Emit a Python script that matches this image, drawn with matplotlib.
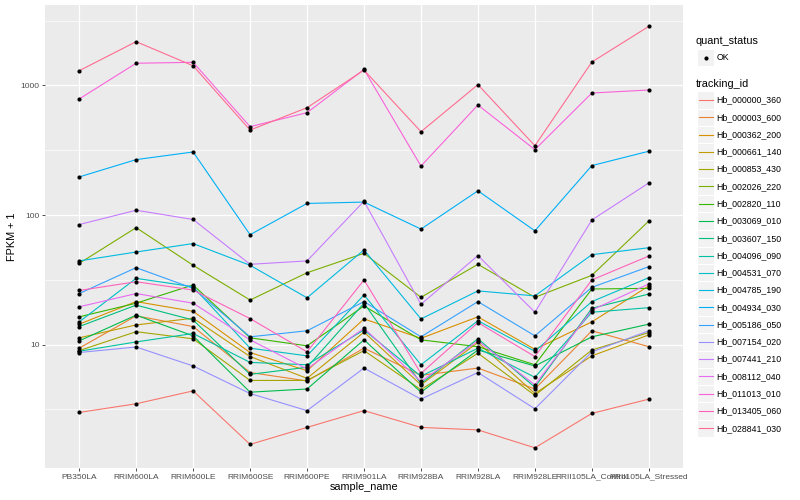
import numpy as np
import matplotlib
matplotlib.use('Agg')
import matplotlib.pyplot as plt
from matplotlib.patches import Rectangle

plt.rcParams['font.family'] = ['Liberation Sans', 'DejaVu Sans']

samples = ['PB350LA', 'RRIM600LA', 'RRIM600LE', 'RRIM600SE', 'RRIM600PE', 'RRIM901LA',
           'RRIM928BA', 'RRIM928LA', 'RRIM928LE', 'RRII105LA_Control', 'RRII105LA_Stressed']

tracking_ids = ['Hb_000000_360', 'Hb_000003_600', 'Hb_000362_200', 'Hb_000661_140',
                'Hb_000853_430', 'Hb_002026_220', 'Hb_002820_110', 'Hb_003069_010',
                'Hb_003607_150', 'Hb_004096_090', 'Hb_004531_070', 'Hb_004785_190',
                'Hb_004934_030', 'Hb_005186_050', 'Hb_007154_020', 'Hb_007441_210',
                'Hb_008112_040', 'Hb_011013_010', 'Hb_013405_060', 'Hb_028841_030']

# ggplot hue palette, 20 levels
colors = ['#F8766D', '#EA8331', '#D89000', '#C09B00', '#A3A500', '#7CAE00', '#39B600',
          '#00BB4E', '#00BF7D', '#00C1A3', '#00BFC4', '#00BAE0', '#00B0F6', '#35A2FF',
          '#9590FF', '#C77CFF', '#E76BF3', '#FA62DB', '#FF62BC', '#FF6C91']

# FPKM + 1 per sample
hb_000000_360 = [3.0, 3.5, 4.4, 1.7, 2.3, 3.1, 2.3, 2.2, 1.6, 2.95, 3.8]
hb_000003_600 = [9.4, 16.7, 13.8, 6.1, 5.25, 9.4, 5.8, 6.6, 4.55, 12.8, 9.65]
hb_000362_200 = [14.4, 21.5, 18.1, 8.7, 6.3, 15.8, 11.2, 16.4, 9.2, 15.0, 28.4]
hb_000661_140 = [11.3, 14.2, 16.0, 8.1, 5.5, 12.5, 4.9, 10.4, 4.2, 8.2, 11.9]
hb_000853_430 = [9.0, 12.6, 11.1, 5.3, 5.3, 9.0, 4.5, 8.6, 4.06, 9.1, 12.4]
hb_002026_220 = [42.4, 80, 41, 22.1, 35.9, 50.7, 23.2, 41.7, 23.2, 34.3, 90]
hb_002820_110 = [16.4, 20.9, 28.9, 11.3, 9.8, 19.9, 10.9, 9.65, 7.0, 26.9, 27.2]
hb_003069_010 = [10.7, 16.9, 11.7, 4.3, 4.55, 10.9, 4.3, 9.1, 6.85, 11.5, 14.4]
hb_003607_150 = [13.8, 20.2, 15.5, 5.9, 6.7, 20.9, 5.0, 11.1, 4.7, 19.1, 24.6]
hb_004096_090 = [8.9, 10.5, 12.2, 7.3, 7.0, 13.0, 5.7, 9.4, 5.6, 17.8, 19.3]
hb_004531_070 = [15.0, 32.5, 28.0, 9.4, 8.2, 24.2, 7.0, 15.3, 8.9, 21.5, 32.9]
hb_004785_190 = [44.3, 51.9, 60.3, 41, 23, 53.9, 15.8, 26, 23.8, 49.5, 56]
hb_004934_030 = [197, 268, 307, 70.6, 123, 126, 78, 154, 75.6, 241, 311]
hb_005186_050 = [24.8, 39.3, 27.2, 11.5, 12.8, 21.5, 11.5, 21.5, 11.7, 27.7, 40.0]
hb_007154_020 = [8.7, 9.6, 6.85, 4.2, 3.1, 6.6, 3.8, 6.1, 3.2, 8.8, 12.8]
hb_007441_210 = [84.5, 109, 92.5, 41.7, 44.3, 128, 20.5, 48.7, 17.8, 91.7, 177]
hb_008112_040 = [19.6, 24.8, 20.9, 10.9, 6.5, 13.4, 5.2, 10.7, 4.9, 18.5, 29.4]
hb_011013_010 = [787, 1485, 1510, 481, 617, 1330, 239, 707, 320, 875, 923]
hb_013405_060 = [26.2, 30.6, 26.4, 15.9, 8.8, 31.6, 6.0, 14.8, 8.1, 31.6, 48.3]
hb_028841_030 = [1300, 2180, 1420, 453, 674, 1316, 440, 1015, 343, 1518, 2860]

series = [hb_000000_360, hb_000003_600, hb_000362_200, hb_000661_140, hb_000853_430,
          hb_002026_220, hb_002820_110, hb_003069_010, hb_003607_150, hb_004096_090,
          hb_004531_070, hb_004785_190, hb_004934_030, hb_005186_050, hb_007154_020,
          hb_007441_210, hb_008112_040, hb_011013_010, hb_013405_060, hb_028841_030]

W, H = 800, 500
fig = plt.figure(figsize=(8, 5), dpi=100)
ax = fig.add_axes([45 / W, 1 - 468 / H, (683 - 45) / W, (468 - 5) / H])
ax.set_facecolor('#EBEBEB')

x = np.arange(len(samples))
for vals, c in zip(series, colors):
    ax.plot(x, vals, color=c, lw=0.8, zorder=3)
for vals in series:
    ax.plot(x, vals, 'o', color='black', ms=3, mew=0, zorder=4)

ax.set_yscale('log')
ax.set_ylim(1.118, 4180)
ax.set_xlim(-0.6, len(samples) - 0.4)
ax.set_yticks([10, 100, 1000])
ax.set_yticklabels(['10', '100', '1000'])
ax.set_yticks([10 ** 0.5, 10 ** 1.5, 10 ** 2.5, 10 ** 3.5], minor=True)
ax.yaxis.set_minor_formatter(matplotlib.ticker.NullFormatter())
ax.set_xticks(x)
ax.set_xticklabels(samples)

ax.grid(True, which='major', color='white', lw=0.9, zorder=1)
ax.grid(True, which='minor', axis='y', color='white', lw=0.45, zorder=1)
ax.set_axisbelow(True)
for s in ax.spines.values():
    s.set_visible(False)
ax.tick_params(which='major', length=2.5, width=0.6, color='#333333',
               labelsize=6, labelcolor='#4D4D4D', pad=1.5)
ax.tick_params(which='minor', length=0)

# overlay in pixel coordinates for titles and legend
lax = fig.add_axes([0, 0, 1, 1], facecolor='none')
lax.set_xlim(0, W)
lax.set_ylim(H, 0)
lax.axis('off')

lax.text(364, 487, 'sample_name', fontsize=7.8, ha='center', va='center')
lax.text(12, 237, 'FPKM + 1', fontsize=7.8, ha='center', va='center', rotation=90)

box = 17.28
lax.text(696, 40.7, 'quant_status', fontsize=7.8, ha='left', va='center')
lax.add_patch(Rectangle((697, 57.6 - box / 2), box, box, fc='#F2F2F2', ec='white', lw=0.8))
lax.plot([697 + box / 2], [57.6], 'o', color='black', ms=3, mew=0)
lax.text(716.7, 57.6, 'OK', fontsize=6.3, ha='left', va='center')

lax.text(696, 84, 'tracking_id', fontsize=7.8, ha='left', va='center')
for i, (name, c) in enumerate(zip(tracking_ids, colors)):
    yc = 100 + box * i
    lax.add_patch(Rectangle((697, yc - box / 2), box, box, fc='#F2F2F2', ec='white', lw=0.8))
    lax.plot([698.7, 697 + box - 1.7], [yc, yc], color=c, lw=0.8)
    lax.text(716.7, yc, name, fontsize=6.3, ha='left', va='center')

fig.savefig('out.png', dpi=100)
